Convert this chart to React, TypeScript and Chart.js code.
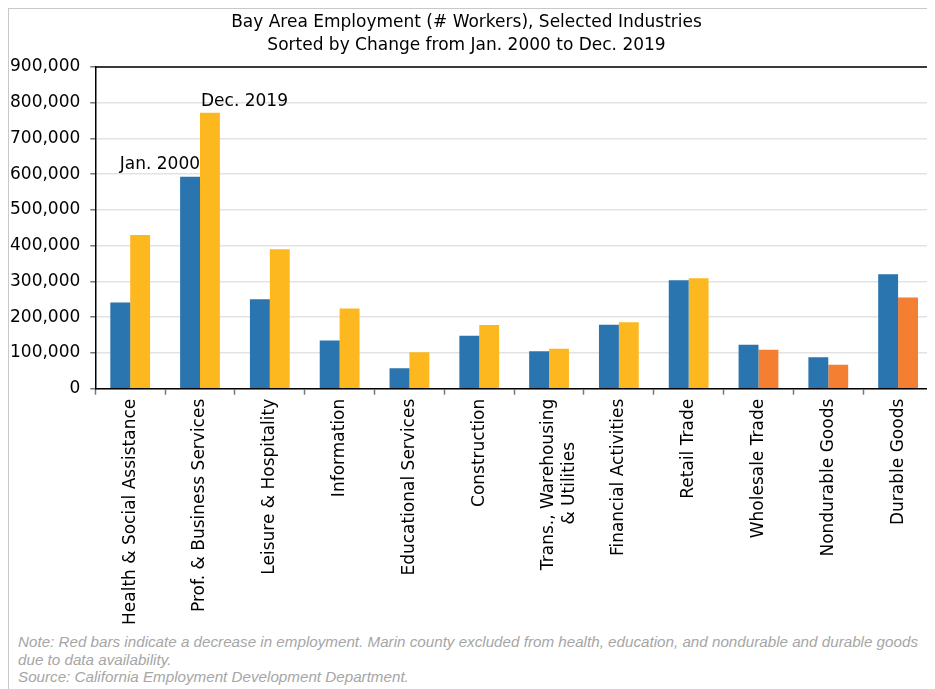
import React, { useEffect, useRef } from "react";
import { Chart, registerables } from "chart.js";

Chart.register(...registerables);

const TITLE = [
  "Bay Area Employment (# Workers), Selected Industries",
  "Sorted by Change from Jan. 2000 to Dec. 2019",
];

const categories: (string | string[])[] = [
  "Health & Social Assistance",
  "Prof. & Business Services",
  "Leisure & Hospitality",
  "Information",
  "Educational Services",
  "Construction",
  ["Trans., Warehousing", "& Utilities"],
  "Financial Activities",
  "Retail Trade",
  "Wholesale Trade",
  "Nondurable Goods",
  "Durable Goods",
];

const jan2000 = [241000, 593000, 250000, 135000, 57000, 148000, 105000, 179000, 303000, 123000, 88000, 320000];
const dec2019 = [430000, 772000, 390000, 224000, 102000, 178000, 112000, 186000, 309000, 109000, 67000, 255000];

const yTicks = [0, 100000, 200000, 300000, 400000, 500000, 600000, 700000, 800000, 900000];

const SERIES_LABELS = ["Jan. 2000", "Dec. 2019"];

const BLUE = "#2A75AF";
const YELLOW = "#FDB71F";
const ORANGE = "#F47E32";
const FONT = "'DejaVu Sans', 'Liberation Sans', Arial, sans-serif";
const NOTE_FONT = "'Liberation Sans', Arial, sans-serif";
const FS = 17;

const measureCtx = (() => {
  if (typeof document === "undefined") return null;
  const c = document.createElement("canvas");
  return c.getContext("2d");
})();

function padLines(label: string | string[]): string | string[] {
  if (!Array.isArray(label) || !measureCtx) return label;
  measureCtx.font = `${FS}px ${FONT}`;
  const widths = label.map((l) => measureCtx.measureText(l).width);
  const maxW = Math.max(...widths);
  const sp = measureCtx.measureText(" ").width;
  return label.map((l, i) => l + " ".repeat(Math.round((maxW - widths[i]) / 2 / sp)));
}

const framePlugin = {
  id: "frameAndNotes",
  afterDatasetsDraw(chart: any) {
    const { ctx, chartArea } = chart;
    ctx.save();
    ctx.strokeStyle = "#000";
    ctx.lineWidth = 1.5;
    ctx.beginPath();
    ctx.moveTo(chartArea.left, chartArea.top);
    ctx.lineTo(chartArea.right, chartArea.top);
    ctx.lineTo(chartArea.right, chartArea.bottom);
    ctx.stroke();

    ctx.fillStyle = "#000";
    ctx.font = `${FS}px ${FONT}`;
    const b0 = chart.getDatasetMeta(0).data[1];
    const b1 = chart.getDatasetMeta(1).data[1];
    ctx.textBaseline = "alphabetic";
    ctx.textAlign = "right";
    ctx.fillText(SERIES_LABELS[0], b0.x + b0.width / 2, b0.y - 8);
    ctx.textAlign = "left";
    ctx.fillText(SERIES_LABELS[1], b1.x - b1.width / 2 + 1, b1.y - 7);
    ctx.restore();
  },
};

export default function App() {
  const ref = useRef<HTMLCanvasElement | null>(null);

  useEffect(() => {
    if (!ref.current) return;
    const decColors = dec2019.map((v, i) => (v < jan2000[i] ? ORANGE : YELLOW));
    const chart = new Chart(ref.current, {
      type: "bar",
      data: {
        labels: categories,
        datasets: [
          {
            label: SERIES_LABELS[0],
            data: jan2000,
            backgroundColor: BLUE,
            categoryPercentage: 0.57,
            barPercentage: 1.0,
          },
          {
            label: SERIES_LABELS[1],
            data: dec2019,
            backgroundColor: decColors,
            categoryPercentage: 0.57,
            barPercentage: 1.0,
          },
        ],
      },
      options: {
        animation: false,
        responsive: false,
        maintainAspectRatio: false,
        layout: { padding: { left: -9, right: 40, top: 0, bottom: 4 } },
        plugins: {
          legend: { display: false },
          tooltip: { enabled: false },
          title: {
            display: true,
            text: TITLE,
            color: "#000",
            font: { family: FONT, size: FS, weight: "normal", lineHeight: 1.35 },
            padding: { top: 2, bottom: 10 },
          },
        },
        scales: {
          x: {
            afterFit: (scale: any) => {
              scale.paddingLeft = 0;
              scale.paddingRight = 0;
            },
            grid: {
              offset: true,
              drawOnChartArea: false,
              drawTicks: true,
              tickLength: 6,
              tickColor: "#777",
              tickWidth: 1.5,
            },
            border: { color: "#000", width: 1.5 },
            ticks: {
              autoSkip: false,
              minRotation: 90,
              maxRotation: 90,
              padding: 4,
              color: "#000",
              font: { family: FONT, size: FS },
              callback: (_v: any, i: number) => padLines(categories[i]),
            },
          },
          y: {
            min: 0,
            max: 900000,
            afterBuildTicks: (axis: any) => {
              axis.ticks = yTicks.map((v) => ({ value: v }));
            },
            grid: {
              color: "#E3E3E3",
              lineWidth: 1.5,
              drawTicks: true,
              tickLength: 5,
              tickColor: "#777",
            },
            border: { color: "#000", width: 1.5 },
            ticks: {
              padding: 10,
              color: "#000",
              font: { family: FONT, size: FS },
              callback: (v: any) => Number(v).toLocaleString("en-US"),
            },
          },
        },
      },
      plugins: [framePlugin],
    });
    return () => chart.destroy();
  }, []);

  return (
    <div
      style={{
        position: "relative",
        width: 926,
        height: 680,
        overflow: "hidden",
        borderLeft: "1px solid #C8C8C8",
        borderTop: "1px solid #C8C8C8",
        fontFamily: NOTE_FONT,
      }}
    >
      <canvas ref={ref} width={964} height={624} style={{ display: "block" }} />
      <div
        style={{
          position: "absolute",
          left: 9,
          top: 624,
          fontSize: 15.2,
          fontStyle: "italic",
          color: "#A6A6A6",
          lineHeight: "17.5px",
          whiteSpace: "nowrap",
        }}
      >
        Note: Red bars indicate a decrease in employment. Marin county excluded from health, education, and nondurable and durable goods
        <br />
        due to data availability.
        <br />
        Source: California Employment Development Department.
      </div>
    </div>
  );
}
